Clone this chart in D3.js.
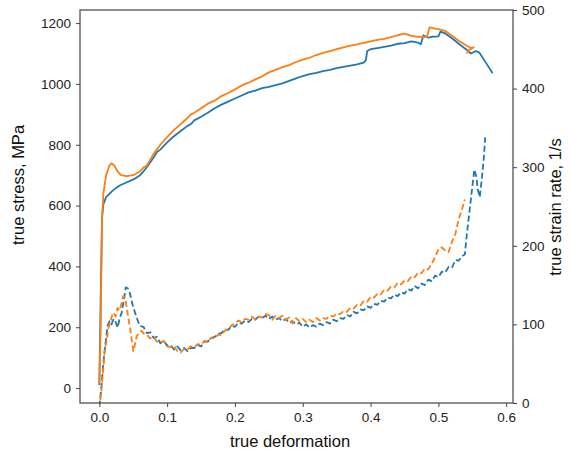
<!DOCTYPE html>
<html>
<head>
<meta charset="utf-8">
<script src="https://cdn.jsdelivr.net/npm/d3@7"></script>
<style>
  body { margin: 0; background: #fff; }
  svg { display: block; font-family: "Liberation Sans", Arial, sans-serif; }
  .tick text { fill: #222; font-size: 13.5px; }
  .tick line { stroke: #444; }
</style>
</head>
<body>
<svg id="chart" width="570" height="454"></svg>
<script>
// matplotlib default colours
const colors = { blue: "#1f77b4", orange: "#ff7f0e", axis: "#444" };

// true stress, MPa (left axis), [deformation, stress]
const stressBlue = [
  [0, 10], [0.002, 300], [0.004, 560], [0.006, 605], [0.01, 628], [0.02, 650], [0.03, 666], [0.04, 676],
  [0.05, 686], [0.055, 692], [0.06, 700], [0.065, 712], [0.07, 726], [0.08, 758], [0.085, 776], [0.09, 784],
  [0.1, 808], [0.11, 828], [0.12, 845], [0.13, 862], [0.135, 868], [0.14, 880], [0.15, 892], [0.16, 905],
  [0.17, 920], [0.18, 932], [0.19, 942], [0.2, 952], [0.21, 962], [0.22, 972], [0.23, 978], [0.24, 986],
  [0.25, 990], [0.26, 996], [0.27, 1002], [0.28, 1010], [0.29, 1018], [0.3, 1026], [0.31, 1032], [0.32, 1036],
  [0.33, 1042], [0.34, 1046], [0.35, 1052], [0.36, 1056], [0.37, 1060], [0.38, 1064], [0.39, 1070], [0.393, 1078],
  [0.395, 1108], [0.4, 1114], [0.41, 1118], [0.42, 1122], [0.43, 1126], [0.44, 1132], [0.45, 1134], [0.46, 1140],
  [0.47, 1136], [0.474, 1130], [0.478, 1160], [0.485, 1152], [0.49, 1155], [0.5, 1156], [0.503, 1172], [0.51, 1166],
  [0.52, 1150], [0.53, 1132], [0.54, 1115], [0.548, 1100], [0.555, 1108], [0.56, 1104], [0.57, 1070], [0.58, 1035]
];
const stressOrange = [
  [0, 15], [0.002, 200], [0.004, 560], [0.006, 640], [0.01, 700], [0.015, 732], [0.018, 739], [0.022, 732],
  [0.027, 712], [0.032, 700], [0.04, 697], [0.05, 700], [0.06, 712], [0.065, 725], [0.07, 732], [0.08, 770],
  [0.09, 800], [0.1, 825], [0.11, 848], [0.12, 868], [0.13, 888], [0.135, 900], [0.14, 905], [0.15, 920],
  [0.16, 935], [0.17, 945], [0.18, 960], [0.19, 970], [0.2, 982], [0.21, 995], [0.22, 1004], [0.23, 1015],
  [0.24, 1025], [0.25, 1038], [0.26, 1046], [0.27, 1055], [0.28, 1062], [0.29, 1072], [0.3, 1080], [0.31, 1086],
  [0.32, 1095], [0.33, 1102], [0.34, 1108], [0.35, 1114], [0.36, 1120], [0.37, 1126], [0.38, 1130], [0.39, 1135],
  [0.4, 1140], [0.41, 1145], [0.42, 1148], [0.43, 1154], [0.44, 1160], [0.45, 1165], [0.46, 1158], [0.47, 1155],
  [0.483, 1154], [0.487, 1186], [0.495, 1182], [0.5, 1180], [0.51, 1174], [0.52, 1158], [0.53, 1142], [0.54, 1128],
  [0.548, 1118], [0.552, 1120], [0.545, 1112], [0.542, 1100]
];

// true strain rate, 1/s (right axis), [deformation, rate]
const rateBlue = [
  [0, -5], [0.003, 20], [0.006, 52], [0.009, 75], [0.012, 98], [0.015, 104], [0.018, 100], [0.021, 107],
  [0.024, 103], [0.027, 96], [0.03, 108], [0.033, 115], [0.036, 130], [0.039, 147], [0.042, 146], [0.045, 140],
  [0.049, 125], [0.053, 114], [0.057, 104], [0.06, 98], [0.065, 97], [0.07, 89], [0.075, 90], [0.08, 83],
  [0.085, 84], [0.09, 76], [0.095, 79], [0.1, 73], [0.105, 74], [0.11, 68], [0.115, 72], [0.12, 67],
  [0.125, 70], [0.13, 66], [0.135, 70], [0.14, 70], [0.145, 74], [0.15, 72], [0.155, 78], [0.16, 78],
  [0.165, 83], [0.17, 84], [0.175, 88], [0.18, 89], [0.185, 94], [0.19, 93], [0.195, 98], [0.2, 97],
  [0.205, 102], [0.21, 101], [0.215, 105], [0.22, 103], [0.225, 107], [0.23, 106], [0.235, 110], [0.24, 108],
  [0.245, 111], [0.25, 107], [0.255, 110], [0.26, 106], [0.265, 108], [0.27, 104], [0.275, 107], [0.28, 102],
  [0.285, 104], [0.29, 100], [0.295, 102], [0.3, 97], [0.305, 100], [0.31, 96], [0.315, 99], [0.32, 97],
  [0.325, 101], [0.33, 99], [0.335, 103], [0.34, 101], [0.345, 106], [0.35, 104], [0.355, 108], [0.36, 107],
  [0.365, 112], [0.37, 110], [0.375, 116], [0.38, 114], [0.385, 119], [0.39, 118], [0.395, 123], [0.4, 121],
  [0.405, 126], [0.41, 125], [0.415, 130], [0.42, 129], [0.425, 134], [0.43, 133], [0.435, 138], [0.44, 136],
  [0.445, 141], [0.45, 139], [0.455, 145], [0.46, 143], [0.465, 149], [0.47, 146], [0.475, 152], [0.48, 150],
  [0.485, 157], [0.49, 155], [0.495, 162], [0.5, 160], [0.505, 167], [0.51, 166], [0.515, 173], [0.52, 172],
  [0.525, 182], [0.53, 181], [0.535, 187], [0.539, 189], [0.542, 215], [0.546, 245], [0.55, 275], [0.553, 297],
  [0.556, 288], [0.558, 272], [0.561, 262], [0.564, 285], [0.567, 312], [0.569, 338]
];
const rateOrange = [
  [0, -8], [0.003, 15], [0.006, 45], [0.008, 68], [0.011, 80], [0.013, 94], [0.016, 102], [0.019, 112],
  [0.021, 115], [0.024, 110], [0.027, 121], [0.03, 118], [0.033, 128], [0.035, 136], [0.038, 134], [0.041, 118],
  [0.043, 107], [0.046, 92], [0.048, 79], [0.05, 66], [0.052, 72], [0.055, 85], [0.058, 88], [0.062, 92],
  [0.066, 88], [0.07, 87], [0.075, 82], [0.08, 84], [0.085, 78], [0.09, 77], [0.095, 79], [0.1, 72],
  [0.105, 71], [0.11, 73], [0.115, 66], [0.12, 64], [0.125, 69], [0.13, 68], [0.135, 72], [0.14, 71],
  [0.145, 75], [0.15, 74], [0.155, 79], [0.16, 78], [0.165, 83], [0.17, 82], [0.175, 87], [0.18, 86],
  [0.185, 92], [0.19, 93], [0.195, 99], [0.2, 101], [0.205, 105], [0.21, 103], [0.215, 107], [0.22, 106],
  [0.225, 110], [0.23, 106], [0.235, 110], [0.24, 109], [0.245, 113], [0.25, 112], [0.255, 106], [0.26, 111],
  [0.265, 108], [0.27, 111], [0.275, 106], [0.28, 109], [0.285, 101], [0.29, 108], [0.295, 104], [0.3, 107],
  [0.305, 103], [0.31, 106], [0.315, 103], [0.32, 108], [0.325, 105], [0.33, 108], [0.335, 107], [0.34, 111],
  [0.345, 110], [0.35, 114], [0.355, 113], [0.36, 117], [0.365, 116], [0.37, 121], [0.375, 120], [0.38, 125],
  [0.385, 124], [0.39, 130], [0.395, 129], [0.4, 135], [0.405, 134], [0.41, 139], [0.415, 138], [0.42, 144],
  [0.425, 143], [0.43, 148], [0.435, 147], [0.44, 153], [0.445, 151], [0.45, 156], [0.455, 155], [0.46, 161],
  [0.465, 160], [0.47, 166], [0.475, 165], [0.48, 171], [0.485, 170], [0.49, 177], [0.495, 185], [0.5, 196],
  [0.505, 198], [0.51, 194], [0.515, 192], [0.52, 205], [0.525, 215], [0.53, 234], [0.535, 247], [0.539, 259]
];

// tick values
const xTicks = [0, 0.1, 0.2, 0.3, 0.4, 0.5, 0.6];
const stressTicks = [0, 200, 400, 600, 800, 1000, 1200];
const rateTicks = [0, 100, 200, 300, 400, 500];

const svg = d3.select("#chart");
const frame = { left: 80, right: 513, top: 10, bottom: 403 };

const x = d3.scaleLinear().domain([-0.0285, 0.61]).range([frame.left, frame.right]);
const yStress = d3.scaleLinear().domain([-49, 1243]).range([frame.bottom, frame.top]);
const yRate = d3.scaleLinear().domain([0, 500]).range([frame.bottom, frame.top]);

svg.append("clipPath").attr("id", "plot-clip")
  .append("rect")
  .attr("x", frame.left).attr("y", frame.top)
  .attr("width", frame.right - frame.left).attr("height", frame.bottom - frame.top);

const plot = svg.append("g").attr("clip-path", "url(#plot-clip)");

const stressLine = d3.line().x(d => x(d[0])).y(d => yStress(d[1]));
const rateLine = d3.line().x(d => x(d[0])).y(d => yRate(d[1]));

// 曲线
const series = [
  { data: stressBlue, line: stressLine, color: colors.blue, dash: null },
  { data: stressOrange, line: stressLine, color: colors.orange, dash: null },
  { data: rateBlue, line: rateLine, color: colors.blue, dash: "6,3" },
  { data: rateOrange, line: rateLine, color: colors.orange, dash: "6,3" }
];

plot.selectAll("path.series")
  .data(series)
  .enter()
  .append("path")
  .attr("class", "series")
  .attr("d", s => s.line(s.data))
  .attr("fill", "none")
  .attr("stroke", s => s.color)
  .attr("stroke-width", 1.8)
  .attr("stroke-linejoin", "round")
  .attr("stroke-dasharray", s => s.dash);

// 坐标轴
const xAxis = svg.append("g")
  .attr("transform", `translate(0,${frame.bottom})`)
  .call(d3.axisBottom(x).tickValues(xTicks).tickFormat(d3.format(".1f")).tickSize(4).tickPadding(5));

const leftAxis = svg.append("g")
  .attr("transform", `translate(${frame.left},0)`)
  .call(d3.axisLeft(yStress).tickValues(stressTicks).tickFormat(d3.format("d")).tickSize(4).tickPadding(5));

const rightAxis = svg.append("g")
  .attr("transform", `translate(${frame.right},0)`)
  .call(d3.axisRight(yRate).tickValues(rateTicks).tickFormat(d3.format("d")).tickSize(4).tickPadding(5));

[xAxis, leftAxis, rightAxis].forEach(a => a.select(".domain").remove());

// frame
svg.append("rect")
  .attr("x", frame.left).attr("y", frame.top)
  .attr("width", frame.right - frame.left).attr("height", frame.bottom - frame.top)
  .attr("fill", "none")
  .attr("stroke", colors.axis)
  .attr("stroke-width", 1.2);

// axis labels
svg.append("text")
  .attr("x", 290)
  .attr("y", 447)
  .attr("text-anchor", "middle")
  .style("font-size", "16.5px")
  .style("fill", "#111")
  .text("true deformation");

svg.append("text")
  .attr("transform", "rotate(-90)")
  .attr("x", -185)
  .attr("y", 24)
  .attr("text-anchor", "middle")
  .style("font-size", "16.5px")
  .style("fill", "#111")
  .text("true stress, MPa");

svg.append("text")
  .attr("transform", "rotate(-90)")
  .attr("x", -207)
  .attr("y", 561)
  .attr("text-anchor", "middle")
  .style("font-size", "16.5px")
  .style("fill", "#111")
  .text("true strain rate, 1/s");
</script>
</body>
</html>
